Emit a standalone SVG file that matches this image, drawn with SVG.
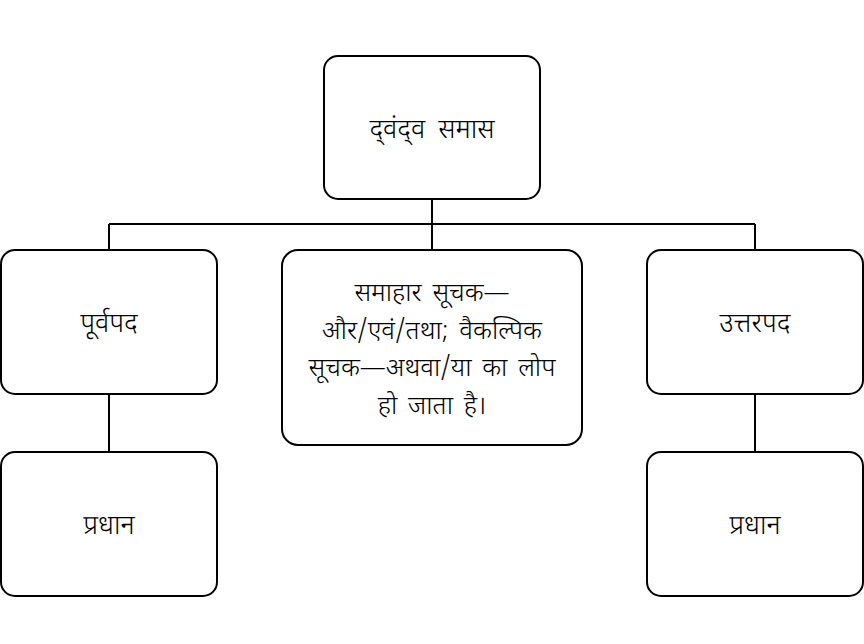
<svg xmlns="http://www.w3.org/2000/svg" width="864" height="644" viewBox="0 0 864 644">
<style>
.box{fill:#fff;stroke:#000;stroke-width:2}
.ln{fill:none;stroke:#000;stroke-width:2}
text{font-family:"Noto Sans Devanagari","Noto Sans","Lohit Devanagari","Mangal",sans-serif;font-size:27px;font-weight:300;fill:#000;text-anchor:middle;word-spacing:6px}
.m{font-size:26px;word-spacing:4px}
</style>
<rect width="864" height="644" fill="#fff"/>
<g id="connectors">
<path class="ln" d="M432,199 V250 M109,224 H755 M109,224 V250 M755,224 V250 M109,394 V452 M755,394 V452"/>
</g>
<g id="n-top"><rect class="box" x="324" y="56" width="216" height="143" rx="14"/><text x="432" y="138">द्‌वंद्‌व समास</text></g>
<g id="n-left"><rect class="box" x="1" y="250" width="216" height="144" rx="14"/><text x="109" y="332">पूर्वपद</text></g>
<g id="n-mid"><rect class="box" x="282" y="250" width="300" height="195" rx="16"/>
<text class="m" x="432" y="301">समाहार सूचक—</text>
<text class="m" x="432" y="339">और/एवं/तथा; वैकल्पिक</text>
<text class="m" x="432" y="376">सूचक—अथवा/या का लोप</text>
<text class="m" x="432" y="414">हो जाता है।</text></g>
<g id="n-right"><rect class="box" x="647" y="250" width="216" height="144" rx="14"/><text x="755" y="332">उत्तरपद</text></g>
<g id="n-bl"><rect class="box" x="1" y="452" width="216" height="144" rx="14"/><text x="109" y="534">प्रधान</text></g>
<g id="n-br"><rect class="box" x="647" y="452" width="216" height="144" rx="14"/><text x="755" y="534">प्रधान</text></g>
</svg>
